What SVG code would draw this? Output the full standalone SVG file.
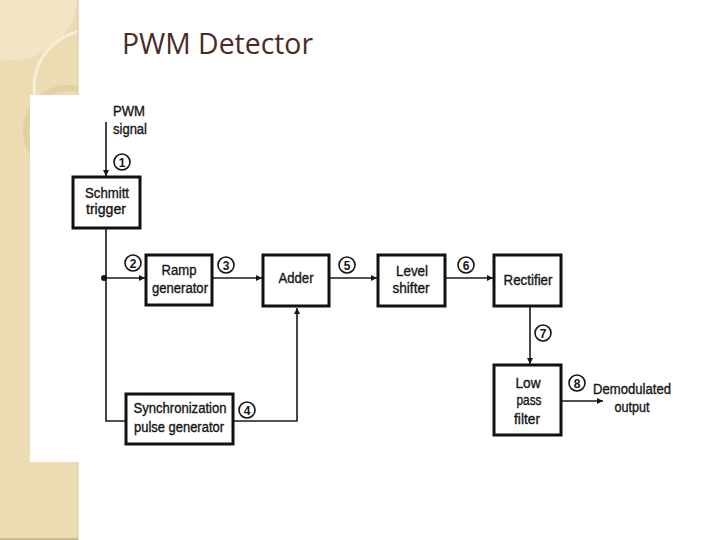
<svg xmlns="http://www.w3.org/2000/svg" width="720" height="540" viewBox="0 0 720 540">
<defs>
<style>
.box{fill:#fff;stroke:#111;stroke-width:3}
.ln{fill:none;stroke:#1a1a1a;stroke-width:1.6}
.t{font-family:"Liberation Sans",Arial,sans-serif;font-size:14px;fill:#151515;stroke:#151515;stroke-width:0.35;text-anchor:middle}
.num{font-family:"Liberation Sans",Arial,sans-serif;font-size:12px;font-weight:bold;fill:#151515;text-anchor:middle}
.nc{fill:#fff;stroke:#151515;stroke-width:1.6}
</style>
<marker id="ah" viewBox="0 0 10 10" refX="10" refY="5" markerWidth="7" markerHeight="6" markerUnits="userSpaceOnUse" orient="auto">
<path d="M0,0 L10,5 L0,10 z" fill="#151515"/>
</marker>
<clipPath id="strip"><rect x="0" y="0" width="78" height="540"/></clipPath>
</defs>
<rect width="720" height="540" fill="#fff"/>
<g id="background">
<rect x="0" y="0" width="78" height="540" fill="#ecdcb4"/>
<g clip-path="url(#strip)">
<circle cx="12" cy="-6" r="66" fill="#f1e5c6"/>
<circle cx="92" cy="88" r="58" fill="none" stroke="#f7eed6" stroke-width="3"/>
<circle cx="68" cy="130" r="42" fill="none" stroke="#e2d0a4" stroke-width="6"/>
</g>
<line x1="78" y1="0" x2="78" y2="540" stroke="#d8c69a" stroke-width="1"/>
<line x1="0" y1="539" x2="78" y2="539" stroke="#bfae86" stroke-width="1.5"/>
<rect x="30" y="95" width="650" height="367" fill="#fff"/>
</g>
<text id="title" x="122" y="54" font-family="'Open Sans','Noto Sans',sans-serif" font-size="29" fill="#4b2d1f" textLength="191" lengthAdjust="spacingAndGlyphs">PWM Detector</text>
<g id="connectors">
<line class="ln" x1="106" y1="122" x2="106" y2="176" marker-end="url(#ah)"/>
<polyline class="ln" points="106,228 106,421 126,421"/>
<line class="ln" x1="106" y1="278" x2="145" y2="278" marker-end="url(#ah)"/>
<circle cx="104" cy="278" r="3" fill="#151515"/>
<line class="ln" x1="212" y1="278" x2="262" y2="278" marker-end="url(#ah)"/>
<line class="ln" x1="329" y1="278" x2="377" y2="278" marker-end="url(#ah)"/>
<line class="ln" x1="446" y1="278" x2="493" y2="278" marker-end="url(#ah)"/>
<line class="ln" x1="530" y1="306" x2="530" y2="364" marker-end="url(#ah)"/>
<line class="ln" x1="561" y1="401" x2="603" y2="401" marker-end="url(#ah)"/>
<polyline class="ln" points="233,421 297,421 297,308" marker-end="url(#ah)"/>
</g>
<g id="labels">
<text class="t" x="129" y="116" textLength="32" lengthAdjust="spacingAndGlyphs">PWM</text>
<text class="t" x="130" y="134" textLength="34" lengthAdjust="spacingAndGlyphs">signal</text>
<text class="t" x="632" y="394" textLength="78" lengthAdjust="spacingAndGlyphs">Demodulated</text>
<text class="t" x="632" y="412" textLength="35" lengthAdjust="spacingAndGlyphs">output</text>
</g>
<g id="numbers">
<circle class="nc" cx="122" cy="162" r="8"/><text class="num" x="122" y="166.5">1</text>
<circle class="nc" cx="133" cy="263" r="8"/><text class="num" x="133" y="267.5">2</text>
<circle class="nc" cx="226" cy="265" r="8"/><text class="num" x="226" y="269.5">3</text>
<circle class="nc" cx="247" cy="410" r="8"/><text class="num" x="247" y="414.5">4</text>
<circle class="nc" cx="347" cy="265" r="8"/><text class="num" x="347" y="269.5">5</text>
<circle class="nc" cx="466" cy="265" r="8"/><text class="num" x="466" y="269.5">6</text>
<circle class="nc" cx="543" cy="333" r="8"/><text class="num" x="543" y="337.5">7</text>
<circle class="nc" cx="577" cy="383" r="8"/><text class="num" x="577" y="387.5">8</text>
</g>
<g id="schmitt">
<rect class="box" x="73" y="177" width="67" height="51"/>
<text class="t" x="107" y="198" textLength="44" lengthAdjust="spacingAndGlyphs">Schmitt</text>
<text class="t" x="106" y="214" textLength="40" lengthAdjust="spacingAndGlyphs">trigger</text>
</g>
<g id="ramp">
<rect class="box" x="146" y="255" width="66" height="50"/>
<text class="t" x="179" y="275" textLength="35" lengthAdjust="spacingAndGlyphs">Ramp</text>
<text class="t" x="180" y="293" textLength="56" lengthAdjust="spacingAndGlyphs">generator</text>
</g>
<g id="adder">
<rect class="box" x="263" y="255" width="66" height="51"/>
<text class="t" x="296" y="283" textLength="35" lengthAdjust="spacingAndGlyphs">Adder</text>
</g>
<g id="level">
<rect class="box" x="378" y="255" width="67" height="51"/>
<text class="t" x="412" y="276" textLength="32" lengthAdjust="spacingAndGlyphs">Level</text>
<text class="t" x="411" y="293" textLength="37" lengthAdjust="spacingAndGlyphs">shifter</text>
</g>
<g id="rectifier">
<rect class="box" x="494" y="255" width="67" height="51"/>
<text class="t" x="528" y="285" textLength="49" lengthAdjust="spacingAndGlyphs">Rectifier</text>
</g>
<g id="lpf">
<rect class="box" x="494" y="365" width="67" height="70"/>
<text class="t" x="528" y="388" textLength="25" lengthAdjust="spacingAndGlyphs">Low</text>
<text class="t" x="529" y="405" textLength="25" lengthAdjust="spacingAndGlyphs">pass</text>
<text class="t" x="527" y="424" textLength="26" lengthAdjust="spacingAndGlyphs">filter</text>
</g>
<g id="sync">
<rect class="box" x="126" y="394" width="107" height="50"/>
<text class="t" x="180" y="413" textLength="93" lengthAdjust="spacingAndGlyphs">Synchronization</text>
<text class="t" x="179" y="432" textLength="90" lengthAdjust="spacingAndGlyphs">pulse generator</text>
</g>
</svg>
